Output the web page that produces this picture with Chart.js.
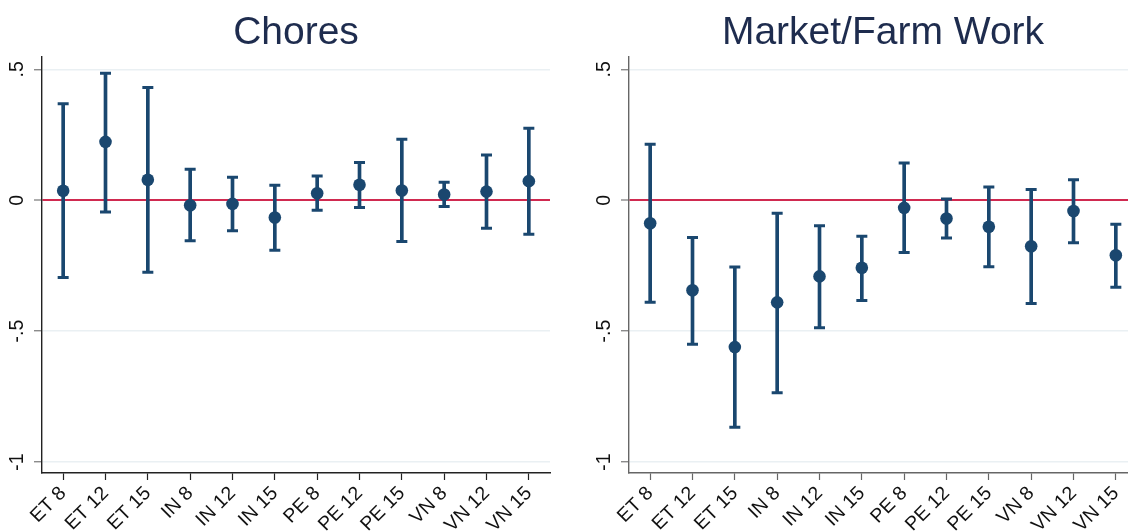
<!DOCTYPE html>
<html lang="en">
<head>
<meta charset="UTF-8">
<title>Chores and Market/Farm Work</title>
<script src="https://cdn.jsdelivr.net/npm/chart.js"></script>
<style>
  html, body {
    margin: 0;
    padding: 0;
    background: #fff;
    overflow: hidden;
    width: 1128px;
    height: 531px;
  }
  .panneau {
    position: absolute;
    top: 0;
  }
  #gauche { left: 0; }
  #droite { left: 587px; }
</style>
</head>
<body>

<canvas id="gauche" class="panneau" width="564" height="531"></canvas>
<canvas id="droite" class="panneau" width="564" height="531"></canvas>

<script>
// categories (country + age)
const categories = ['ET 8', 'ET 12', 'ET 15', 'IN 8', 'IN 12', 'IN 15', 'PE 8', 'PE 12', 'PE 15', 'VN 8', 'VN 12', 'VN 15'];

// Chores : estimate and 95% CI
const choresEst = [0.036, 0.223, 0.078, -0.019, -0.014, -0.066, 0.027, 0.059, 0.037, 0.022, 0.033, 0.073];
const choresLo  = [-0.295, -0.045, -0.275, -0.155, -0.117, -0.191, -0.038, -0.028, -0.158, -0.024, -0.107, -0.130];
const choresHi  = [0.369, 0.485, 0.431, 0.118, 0.088, 0.057, 0.093, 0.144, 0.233, 0.069, 0.173, 0.275];

// Market/Farm work : estimate and 95% CI
const marketEst = [-0.088, -0.344, -0.561, -0.390, -0.291, -0.258, -0.029, -0.070, -0.101, -0.176, -0.041, -0.210];
const marketLo  = [-0.390, -0.550, -0.867, -0.735, -0.487, -0.383, -0.200, -0.144, -0.254, -0.394, -0.162, -0.332];
const marketHi  = [0.214, -0.142, -0.255, -0.050, -0.097, -0.138, 0.142, 0.005, 0.051, 0.041, 0.078, -0.092];

// y ticks
const yTicks = [-1, -0.5, 0, 0.5];
const yTickLabels = ['-1', '-.5', '0', '.5'];

const police = "'Liberation Sans', Arial, sans-serif";
const bleu = '#1a476f';

function creerPanneau(idCanvas, titre, est, lo, hi, couleurAxe) {
    const ctx = document.getElementById(idCanvas).getContext('2d');
    new Chart(ctx, {
        type: 'bar',
        data: {
            labels: categories,
            datasets: [
                {   // intervalle
                    type: 'bar',
                    data: categories.map((c, i) => [lo[i], hi[i]]),
                    backgroundColor: bleu,
                    borderWidth: 0,
                    barThickness: 3,
                    grouped: false,
                    order: 3
                },
                {   // bornes hautes
                    type: 'line',
                    data: hi,
                    showLine: false,
                    pointStyle: 'line',
                    pointRadius: 5.5,
                    pointBorderWidth: 3,
                    pointBorderColor: bleu,
                    order: 2
                },
                {   // bornes basses
                    type: 'line',
                    data: lo,
                    showLine: false,
                    pointStyle: 'line',
                    pointRadius: 5.5,
                    pointBorderWidth: 3,
                    pointBorderColor: bleu,
                    order: 2
                },
                {   // estimations
                    type: 'line',
                    data: est,
                    showLine: false,
                    pointStyle: 'circle',
                    pointRadius: 6.3,
                    pointBorderWidth: 0,
                    pointBackgroundColor: bleu,
                    order: 1
                }
            ]
        },
        options: {
            responsive: false,
            animation: false,
            layout: { padding: { left: 0, right: 14, top: 0, bottom: 0 } },
            plugins: {
                legend: { display: false },
                tooltip: { enabled: false },
                title: {
                    display: true,
                    text: titre,
                    fullSize: false,
                    color: '#1e2c4e',
                    font: { family: police, size: 39, weight: 'normal' },
                    padding: { top: 10, bottom: 0 }
                }
            },
            scales: {
                x: {
                    offset: true,
                    grid: {
                        offset: false,
                        drawOnChartArea: false,
                        drawTicks: true,
                        tickLength: 7,
                        tickColor: couleurAxe,
                        tickWidth: 1.2
                    },
                    border: { display: true, color: couleurAxe, width: 1.4 },
                    ticks: {
                        autoSkip: false,
                        minRotation: 45,
                        maxRotation: 45,
                        padding: 2,
                        color: '#111',
                        font: { family: police, size: 19.5 }
                    },
                    afterFit: function(scale) { scale.height = 58; }
                },
                y: {
                    min: -1.042,
                    max: 0.548,
                    afterBuildTicks: function(scale) {
                        scale.ticks = yTicks.map(v => ({ value: v }));
                    },
                    grid: {
                        color: c => (c.tick && c.tick.value === 0) ? '#d02a50' : '#eaf0f3',
                        lineWidth: c => (c.tick && c.tick.value === 0) ? 2 : 1.5,
                        drawTicks: true,
                        tickLength: 8,
                        tickColor: '#777',
                        tickWidth: 1.2
                    },
                    border: { display: true, color: couleurAxe, width: 1.4 },
                    ticks: {
                        minRotation: 90,
                        maxRotation: 90,
                        crossAlign: 'center',
                        padding: 5,
                        color: '#111',
                        font: { family: police, size: 19.5 },
                        callback: function(value) {
                            const k = yTicks.indexOf(value);
                            return k >= 0 ? yTickLabels[k] : '';
                        }
                    },
                    afterFit: function(scale) { scale.width = 42; }
                }
            }
        }
    });
}

creerPanneau('gauche', 'Chores', choresEst, choresLo, choresHi, '#222');
creerPanneau('droite', 'Market/Farm Work', marketEst, marketLo, marketHi, '#666');
</script>

</body>
</html>
